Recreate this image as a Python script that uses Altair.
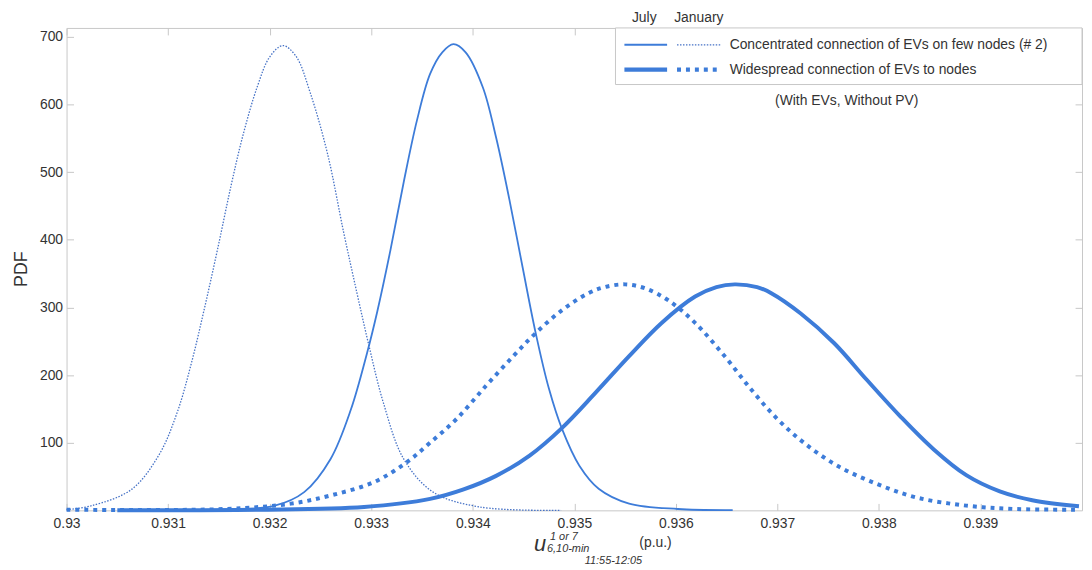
import altair as alt
import pandas as pd

# ---------------- data ----------------
x_ticks = [0.93, 0.931, 0.932, 0.933, 0.934, 0.935, 0.936, 0.937, 0.938, 0.939]
y_ticks = [100, 200, 300, 400, 500, 600, 700]

# January, concentrated connection (thin dotted)
jan_conc_x = [0.9300, 0.93025, 0.93064, 0.93091, 0.93109, 0.93123, 0.93136, 0.93149,
              0.93162, 0.93174, 0.93188, 0.93200, 0.93213, 0.93226, 0.93240, 0.93257,
              0.93273, 0.93286, 0.93298, 0.93312, 0.93332, 0.93361, 0.93407, 0.93487]
jan_conc_y = [1, 7, 31, 82, 145, 218, 300, 388, 480, 556, 627, 670, 687, 671, 617, 527,
              410, 321, 242, 159, 76, 27, 5, 0]

# July, concentrated connection (thin solid)
jul_conc_x = [0.93150, 0.93205, 0.93234, 0.93260, 0.93280, 0.93296, 0.93306, 0.93319,
              0.93332, 0.93345, 0.93358, 0.93370, 0.93381, 0.93393, 0.93410, 0.93423,
              0.93436, 0.93449, 0.93462, 0.93475, 0.93488, 0.93505, 0.93524, 0.93554,
              0.93602, 0.93656]
jul_conc_y = [1, 7, 27, 76, 149, 233, 294, 385, 485, 576, 645, 677, 689, 677, 625, 551,
              460, 360, 262, 180, 120, 66, 32, 10, 2, 0.5]

# January, widespread connection (thick dashed)
jan_wide_x = [0.9300, 0.93156, 0.93221, 0.93260, 0.93303, 0.93335, 0.93358, 0.93384,
              0.93413, 0.93440, 0.93462, 0.93488, 0.93514, 0.93530, 0.93550, 0.93570,
              0.93593, 0.93619, 0.93648, 0.93674, 0.93700, 0.93726, 0.93759, 0.93798,
              0.93837, 0.93886, 0.93935, 0.93997]
jan_wide_y = [1, 2, 10, 22, 42, 71, 100, 135, 184, 228, 262, 296, 321, 330, 334, 328,
              310, 277, 228, 179, 135, 100, 66, 39, 19, 7, 2, 1]

# July, widespread connection (thick solid)
jul_wide_x = [0.93050, 0.93188, 0.93293, 0.93358, 0.93391, 0.93423, 0.93456, 0.93488,
              0.93521, 0.93554, 0.93586, 0.93619, 0.93640, 0.93658, 0.93680, 0.93694,
              0.93723, 0.93756, 0.93788, 0.93821, 0.93854, 0.93886, 0.93919, 0.93951,
              0.93997]
jul_wide_y = [0.3, 1, 5, 17, 31, 51, 81, 122, 174, 228, 277, 316, 330, 334, 330, 321,
              291, 247, 193, 139, 90, 52, 28, 15, 6]

legend_rows = ["Concentrated connection of EVs on few nodes (# 2)",
               "Widespread connection of EVs to nodes"]
legend_cols = ["July", "January"]
note_text = "(With EVs, Without PV)"
y_title = "PDF"

# ---------------- styling ----------------
BLUE = "#3d7cd9"
BLUE_DOT = "#4672c6"
FRAME = "#c8c8c8"
TXT = "#333333"
FONT = "Liberation Sans"

W, H = 1023, 486

xscale = alt.Scale(domain=[0.93, 0.94], nice=False, zero=False)
yscale = alt.Scale(domain=[0, 713], nice=False, zero=True)

x_bottom = alt.Axis(orient="bottom", values=x_ticks, labelExpr="format(datum.value, '.3~f')",
                    offset=-7, tickSize=7, tickColor=FRAME, domain=False, grid=False,
                    labelPadding=6, labelFontSize=14, labelColor=TXT, labelFont=FONT,
                    labelFlush=False, labelOverlap=False, title=None)
y_left = alt.Axis(orient="left", values=y_ticks, offset=-7, tickSize=7, tickColor=FRAME,
                  domain=False, grid=False, labelPadding=4, labelFontSize=14,
                  labelColor=TXT, labelFont=FONT, labelOverlap=False, title=None)
x_top = alt.Axis(orient="top", values=x_ticks, offset=-7, tickSize=7, tickColor=FRAME,
                 domain=False, grid=False, labels=False, title=None)
y_right = alt.Axis(orient="right", values=y_ticks, offset=-7, tickSize=7, tickColor=FRAME,
                   domain=False, grid=False, labels=False, title=None)


def frame(xs, ys):
    return pd.DataFrame({"u": xs, "pdf": ys})


INTERP = "catmull-rom"

l_jan_conc = alt.Chart(frame(jan_conc_x, jan_conc_y)).mark_line(
    color=BLUE_DOT, strokeWidth=1.3, strokeDash=[1.5, 1.5], interpolate=INTERP
).encode(x=alt.X("u:Q", scale=xscale, axis=x_bottom),
         y=alt.Y("pdf:Q", scale=yscale, axis=y_left))

l_jul_conc = alt.Chart(frame(jul_conc_x, jul_conc_y)).mark_line(
    color=BLUE, strokeWidth=1.8, interpolate=INTERP
).encode(x=alt.X("u:Q", scale=xscale, axis=x_top),
         y=alt.Y("pdf:Q", scale=yscale, axis=y_right))

l_jan_wide = alt.Chart(frame(jan_wide_x, jan_wide_y)).mark_line(
    color=BLUE, strokeWidth=4, strokeDash=[4, 5], interpolate=INTERP
).encode(x=alt.X("u:Q", scale=xscale, axis=None),
         y=alt.Y("pdf:Q", scale=yscale, axis=None))

l_jul_wide = alt.Chart(frame(jul_wide_x, jul_wide_y)).mark_line(
    color=BLUE, strokeWidth=4, interpolate=INTERP
).encode(x=alt.X("u:Q", scale=xscale, axis=None),
         y=alt.Y("pdf:Q", scale=yscale, axis=None))

one = pd.DataFrame({"k": [0]})

legend_box = alt.Chart(one).mark_rect(fill="white", stroke=FRAME, strokeWidth=1).encode(
    x=alt.value(553), x2=alt.value(1023), y=alt.value(0), y2=alt.value(57))

leg_thin_solid = alt.Chart(one).mark_rule(color=BLUE, strokeWidth=2).encode(
    x=alt.value(562), x2=alt.value(605), y=alt.value(17))
leg_thin_dot = alt.Chart(one).mark_rule(color=BLUE_DOT, strokeWidth=1.3, strokeDash=[1.5, 1.5]).encode(
    x=alt.value(615), x2=alt.value(660), y=alt.value(17))
leg_thick_solid = alt.Chart(one).mark_rule(color=BLUE, strokeWidth=4.5).encode(
    x=alt.value(562), x2=alt.value(605), y=alt.value(42))
leg_thick_dash = alt.Chart(one).mark_rule(color=BLUE, strokeWidth=4.5, strokeDash=[4, 5]).encode(
    x=alt.value(615), x2=alt.value(660), y=alt.value(42))


def txt(s, x, y, size=14, align="left", baseline="middle", style="normal", angle=0):
    kw = dict(text=s, align=align, baseline=baseline, fontSize=size, font=FONT,
              color=TXT, fontStyle=style)
    if angle:
        kw["angle"] = angle
    return alt.Chart(one).mark_text(**kw).encode(x=alt.value(x), y=alt.value(y))


texts = [
    txt(legend_rows[0], 668, 17),
    txt(legend_rows[1], 668, 42),
    txt(legend_cols[0], 582, -10, align="center"),
    txt(legend_cols[1], 637, -10, align="center"),
    txt(note_text, 786, 74, align="center"),
    txt(y_title, -45, 243, size=18, align="center", angle=270),
    # x-axis title  u^{1 or 7}_{6,10-min, 11:55-12:05}  (p.u.)
    txt("u", 471, 527, size=22, baseline="alphabetic", style="italic"),
    txt("1 or 7", 487, 516, size=11, baseline="alphabetic", style="italic"),
    txt("6,10-min", 484, 528, size=11, baseline="alphabetic", style="italic"),
    txt("11:55-12:05", 522, 540, size=11, baseline="alphabetic", style="italic"),
    txt("(p.u.)", 577, 523, size=14, baseline="alphabetic"),
]

chart = alt.layer(
    l_jan_conc, l_jul_conc, l_jan_wide, l_jul_wide,
    legend_box, leg_thin_solid, leg_thin_dot, leg_thick_solid, leg_thick_dash,
    *texts
).resolve_axis(x="independent", y="independent").properties(
    width=W, height=H,
    padding={"left": 59, "top": 18, "right": 2, "bottom": 60},
    autosize=alt.AutoSizeParams(type="none"),
).configure_view(stroke=FRAME, strokeWidth=1)

chart.save("out.html", embed_options={"renderer": "svg", "actions": False})
